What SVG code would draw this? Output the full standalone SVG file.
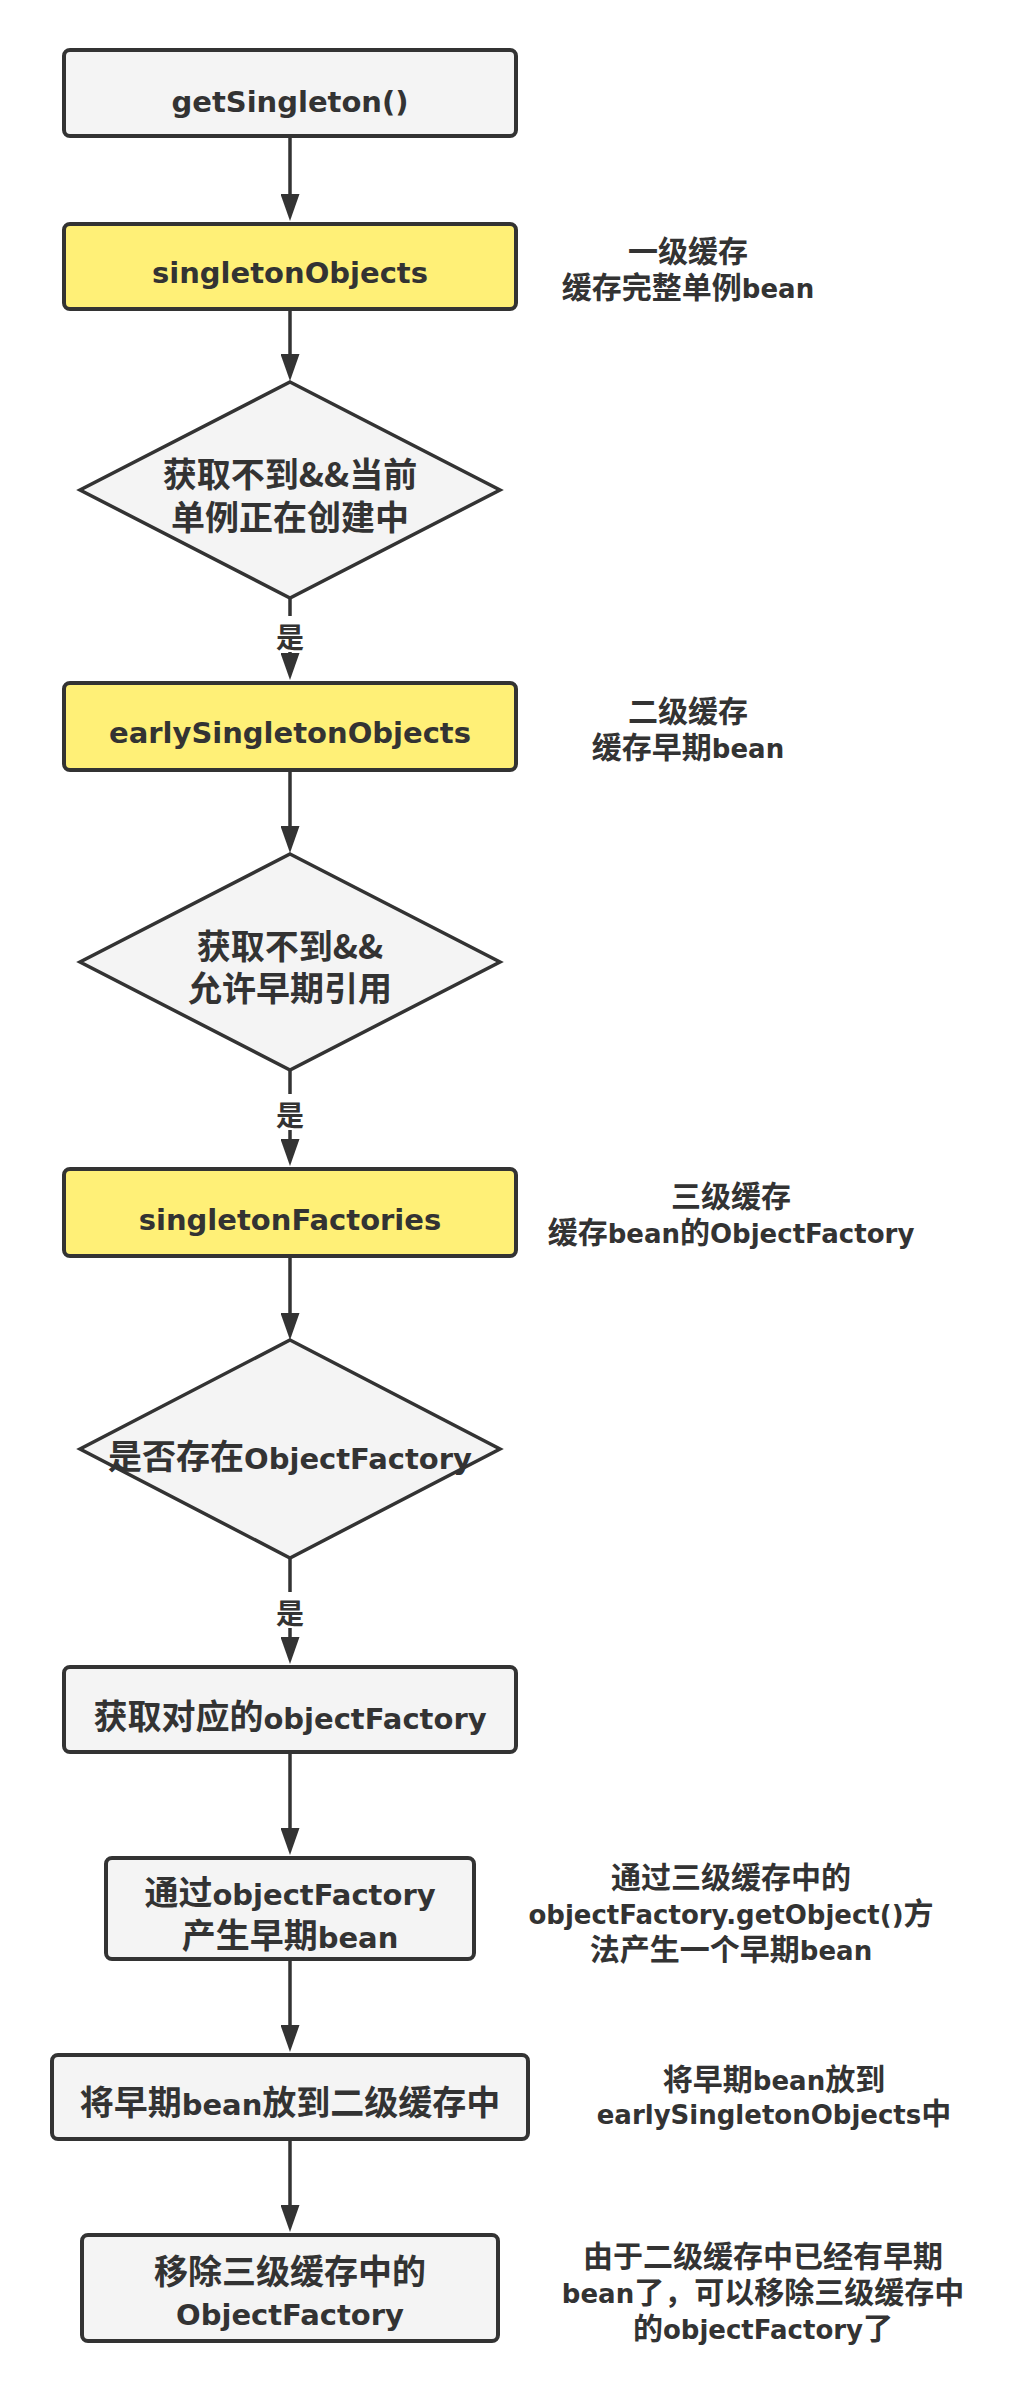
<svg xmlns="http://www.w3.org/2000/svg" width="1035" height="2392" viewBox="0 0 1035 2392">
<defs>
<style>
.box{fill:#f4f4f4;stroke:#333;stroke-width:4}
.y{fill:#fff077}
.dia{fill:#f4f4f4;stroke:#333;stroke-width:3.5}
.edge{stroke:#333;stroke-width:3.5;fill:none;marker-end:url(#arrow)}
.t{font-family:"Noto Sans CJK SC","DejaVu Sans",sans-serif;font-weight:700;font-size:34px;fill:#333;text-anchor:middle}
.a{font-size:30px}
.l{font-family:"DejaVu Sans","Noto Sans CJK SC",sans-serif;font-size:29px}
.a .l{font-size:26px}
.lbl{font-size:28px}
.bg{fill:#fff}
</style>
<marker id="arrow" markerUnits="userSpaceOnUse" markerWidth="27" markerHeight="19" refX="17" refY="9.5" orient="auto"><path d="M0,0 L27,9.5 L0,19 z" fill="#333"/></marker>
</defs>
<rect width="1035" height="2392" fill="#fff"/>

<g id="connectors">
<line class="edge" x1="290" y1="138" x2="290" y2="211"/>
<line class="edge" x1="290" y1="311" x2="290" y2="371"/>
<line class="edge" x1="290" y1="598" x2="290" y2="670"/>
<line class="edge" x1="290" y1="772" x2="290" y2="843"/>
<line class="edge" x1="290" y1="1070" x2="290" y2="1156"/>
<line class="edge" x1="290" y1="1258" x2="290" y2="1330"/>
<line class="edge" x1="290" y1="1558" x2="290" y2="1654"/>
<line class="edge" x1="290" y1="1754" x2="290" y2="1845"/>
<line class="edge" x1="290" y1="1961" x2="290" y2="2042"/>
<line class="edge" x1="290" y1="2141" x2="290" y2="2222"/>
<g id="edge-labels">
<rect class="bg" x="274" y="616" width="32" height="36"/>
<text class="t lbl" x="290" y="648">是</text>
<rect class="bg" x="274" y="1094" width="32" height="36"/>
<text class="t lbl" x="290" y="1125.5">是</text>
<rect class="bg" x="274" y="1592" width="32" height="36"/>
<text class="t lbl" x="290" y="1624">是</text>
</g>
</g>

<g id="n1">
<rect class="box" x="64" y="50" width="452" height="86" rx="6"/>
<text class="t l" x="290" y="112">getSingleton()</text>
</g>

<g id="n2">
<rect class="box y" x="64" y="224" width="452" height="85" rx="6"/>
<text class="t l" x="290" y="283">singletonObjects</text>
</g>
<g id="note1">
<text class="t a" x="688" y="261.5">一级缓存</text>
<text class="t a" x="688" y="298">缓存完整单例<tspan class="l">bean</tspan></text>
</g>

<g id="d1">
<polygon class="dia" points="290,382 500,490 290,598 80,490"/>
<text class="t" x="290" y="487">获取不到&amp;&amp;当前</text>
<text class="t" x="290" y="530">单例正在创建中</text>
</g>

<g id="n3">
<rect class="box y" x="64" y="683" width="452" height="87" rx="6"/>
<text class="t l" x="290" y="743">earlySingletonObjects</text>
</g>
<g id="note2">
<text class="t a" x="688" y="721.5">二级缓存</text>
<text class="t a" x="688" y="757.5">缓存早期<tspan class="l">bean</tspan></text>
</g>

<g id="d2">
<polygon class="dia" points="290,854 500,962 290,1070 80,962"/>
<text class="t" x="290" y="959">获取不到&amp;&amp;</text>
<text class="t" x="290" y="1001">允许早期引用</text>
</g>

<g id="n4">
<rect class="box y" x="64" y="1169" width="452" height="87" rx="6"/>
<text class="t l" x="290" y="1230">singletonFactories</text>
</g>
<g id="note3">
<text class="t a" x="731" y="1206.5">三级缓存</text>
<text class="t a" x="731" y="1242.5">缓存<tspan class="l">bean</tspan>的<tspan class="l">ObjectFactory</tspan></text>
</g>

<g id="d3">
<polygon class="dia" points="290,1340 500,1449 290,1558 80,1449"/>
<text class="t" x="290" y="1469">是否存在<tspan class="l">ObjectFactory</tspan></text>
</g>

<g id="n5">
<rect class="box" x="64" y="1667" width="452" height="85" rx="6"/>
<text class="t" x="290" y="1729">获取对应的<tspan class="l">objectFactory</tspan></text>
</g>

<g id="n6">
<rect class="box" x="106" y="1858" width="368" height="101" rx="6"/>
<text class="t" x="290" y="1905">通过<tspan class="l">objectFactory</tspan></text>
<text class="t" x="290" y="1948">产生早期<tspan class="l">bean</tspan></text>
</g>
<g id="note6">
<text class="t a" x="731" y="1887.5">通过三级缓存中的</text>
<text class="t a" x="731" y="1923.5"><tspan class="l">objectFactory.getObject()</tspan>方</text>
<text class="t a" x="731" y="1959.5">法产生一个早期<tspan class="l">bean</tspan></text>
</g>

<g id="n7">
<rect class="box" x="52" y="2055" width="476" height="84" rx="6"/>
<text class="t" x="290" y="2115">将早期<tspan class="l">bean</tspan>放到二级缓存中</text>
</g>
<g id="note7">
<text class="t a" x="774" y="2089.5">将早期<tspan class="l">bean</tspan>放到</text>
<text class="t a" x="774" y="2124"><tspan class="l">earlySingletonObjects</tspan>中</text>
</g>

<g id="n8">
<rect class="box" x="82" y="2235" width="416" height="106" rx="6"/>
<text class="t" x="290" y="2284">移除三级缓存中的</text>
<text class="t l" x="290" y="2325">ObjectFactory</text>
</g>
<g id="note8">
<text class="t a" x="763" y="2267">由于二级缓存中已经有早期</text>
<text class="t a" x="763" y="2303"><tspan class="l">bean</tspan>了，可以移除三级缓存中</text>
<text class="t a" x="763" y="2339">的<tspan class="l">objectFactory</tspan>了</text>
</g>
</svg>
